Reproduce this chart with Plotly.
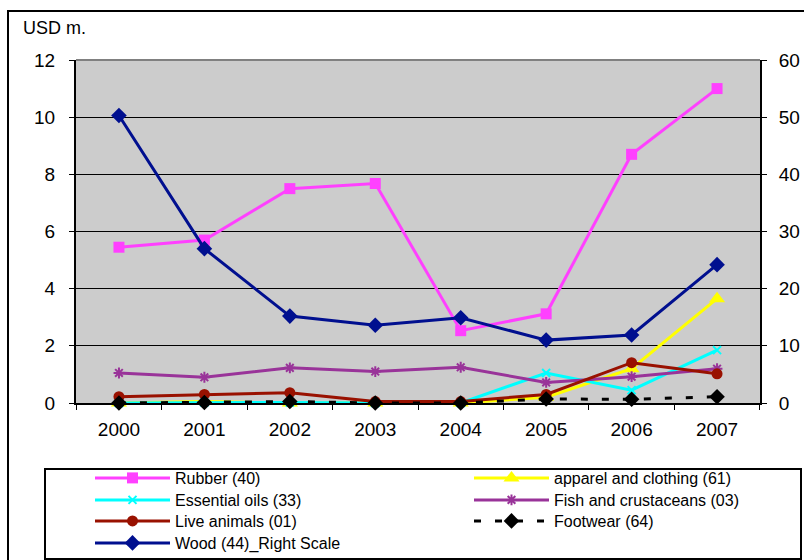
import plotly.graph_objects as go

years = ["2000", "2001", "2002", "2003", "2004", "2005", "2006", "2007"]
rubber = [5.45, 5.7, 7.5, 7.68, 2.53, 3.12, 8.7, 11.0]
apparel = [0.0, 0.05, 0.0, 0.0, 0.0, 0.2, 1.2, 3.65]
essential_oils = [0.0, 0.02, 0.02, 0.0, 0.0, 1.05, 0.45, 1.85]
fish = [1.05, 0.9, 1.23, 1.1, 1.25, 0.72, 0.92, 1.2]
live_animals = [0.22, 0.3, 0.36, 0.05, 0.05, 0.3, 1.41, 1.02]
footwear = [0.0, 0.02, 0.05, 0.0, 0.0, 0.14, 0.13, 0.22]
wood_right = [50.3, 27.0, 15.2, 13.6, 14.9, 11.0, 11.9, 24.2]

left_ticks = [0, 2, 4, 6, 8, 10, 12]
right_ticks = [0, 10, 20, 30, 40, 50, 60]

FONT = "Liberation Sans, Arial, sans-serif"

# plot area geometry (px)
W, H = 804, 560
L, R, T, B = 76, 760, 60, 403
pw, ph = R - L, B - T


def px_x(x):
    return (x - L) / pw


def px_y(y):
    return (B - y) / ph


fig = go.Figure()

# (name, values, colour, marker, dash, axis, legend column x px, legend row y px)
series = [
    ("Rubber (40)", rubber, "#FF40FF", dict(symbol="square", size=11), "solid", "y", 90, 478),
    ("apparel and clothing (61)", apparel, "#FFFF00", dict(symbol="triangle-up", size=14), "solid", "y", 469, 478),
    ("Essential oils (33)", essential_oils, "#00FFFF", dict(symbol="x-thin-open", size=8, line=dict(width=2, color="#00FFFF")), "solid", "y", 90, 500),
    ("Fish and crustaceans (03)", fish, "#993399", dict(symbol="asterisk-open", size=9, line=dict(width=2, color="#993399")), "solid", "y", 469, 500),
    ("Live animals (01)", live_animals, "#991100", dict(symbol="circle", size=11), "solid", "y", 90, 521),
    ("Footwear (64)", footwear, "#000000", dict(symbol="diamond", size=12), "7px,14px", "y", 469, 521),
    ("Wood (44)_Right Scale", wood_right, "#000F8F", dict(symbol="diamond", size=12), "solid", "y2", 90, 543),
]

legend_layouts = {}
for i, (name, vals, color, marker, dash, yax, lx, ly) in enumerate(series):
    m = dict(color=color)
    m.update(marker)
    lid = "legend" if i == 0 else f"legend{i + 1}"
    fig.add_trace(go.Scatter(
        x=years, y=vals, name=name, mode="lines+markers",
        line=dict(color=color, width=3, dash=dash),
        marker=m, yaxis=yax, cliponaxis=False, legend=lid,
    ))
    legend_layouts[lid] = dict(
        x=px_x(lx), y=px_y(ly), xanchor="left", yanchor="middle",
        itemwidth=75, font=dict(family=FONT, size=16, color="black"),
        bgcolor="rgba(0,0,0,0)", borderwidth=0,
    )

fig.update_layout(
    width=W, height=H,
    margin=dict(l=L, r=W - R, t=T, b=H - B, autoexpand=False),
    paper_bgcolor="white",
    plot_bgcolor="#CCCCCC",
    font=dict(family=FONT, size=19, color="black"),
    showlegend=True,
    xaxis=dict(
        type="category", tickson="boundaries", ticks="outside", ticklen=5,
        tickcolor="black", showline=True, linecolor="black", linewidth=2,
        showgrid=False, ticklabelstandoff=8,
        tickfont=dict(size=19),
    ),
    yaxis=dict(
        range=[0, 12], tickvals=left_ticks, ticks="outside", ticklen=5,
        tickcolor="black", showline=True, linecolor="black", linewidth=2,
        showgrid=True, gridcolor="black", gridwidth=1, zeroline=False,
        ticklabelstandoff=10, tickfont=dict(size=19),
    ),
    yaxis2=dict(
        range=[0, 60], tickvals=right_ticks, overlaying="y", side="right",
        ticks="outside", ticklen=5, tickcolor="black", showline=True,
        linecolor="black", linewidth=2, showgrid=False, zeroline=False,
        ticklabelstandoff=8, tickfont=dict(size=19),
    ),
    annotations=[dict(
        text="USD m.", xref="paper", yref="paper", x=px_x(21), y=px_y(28),
        xanchor="left", yanchor="middle", showarrow=False,
        font=dict(family=FONT, size=18, color="black"),
    )],
    shapes=[
        # grey top border of plot area
        dict(type="line", xref="paper", yref="paper", x0=0, x1=1, y0=1, y1=1,
             line=dict(color="#808080", width=2), layer="above"),
        # outer chart frame
        dict(type="rect", xref="paper", yref="paper",
             x0=px_x(8), x1=px_x(808), y0=px_y(566), y1=px_y(11),
             line=dict(color="black", width=2), fillcolor="rgba(0,0,0,0)"),
        # legend frame
        dict(type="rect", xref="paper", yref="paper",
             x0=px_x(45), x1=px_x(801), y0=px_y(559), y1=px_y(469),
             line=dict(color="black", width=2), fillcolor="rgba(0,0,0,0)"),
    ],
)
fig.update_layout(**legend_layouts)

fig.write_html("out.html")
